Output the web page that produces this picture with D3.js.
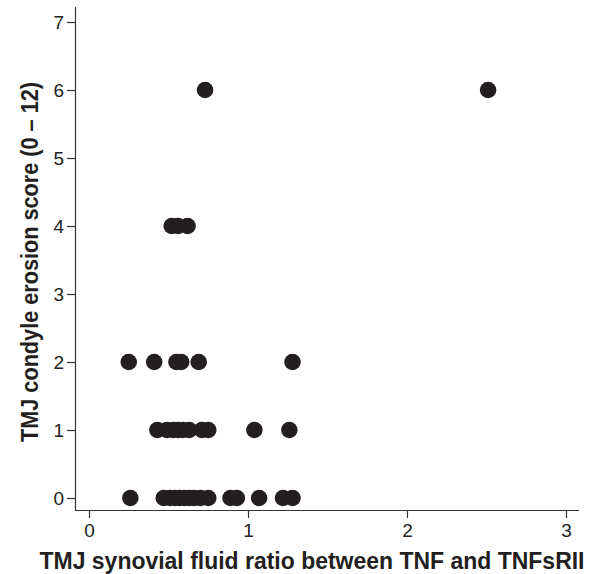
<!DOCTYPE html>
<html>
<head>
<meta charset="utf-8">
<script src="https://cdn.jsdelivr.net/npm/d3@7"></script>
<style>
  body { margin: 0; background: #fff; }
  svg { display: block; font-family: "Liberation Sans", Arial, sans-serif; }
</style>
</head>
<body>
<svg width="596" height="574"></svg>
<script>
// TNF / TNFsRII ratio (x) and condyle erosion score (y)
const ratio = [
  0.26, 0.47, 0.51, 0.54, 0.57, 0.60, 0.63, 0.66, 0.70, 0.75, 0.89, 0.93, 1.07, 1.22, 1.28,
  0.43, 0.49, 0.53, 0.56, 0.59, 0.63, 0.71, 0.75, 1.04, 1.26,
  0.25, 0.41, 0.55, 0.58, 0.69, 1.28,
  0.52, 0.56, 0.62,
  0.73, 2.51
];
const score = [
  0, 0, 0, 0, 0, 0, 0, 0, 0, 0, 0, 0, 0, 0, 0,
  1, 1, 1, 1, 1, 1, 1, 1, 1, 1,
  2, 2, 2, 2, 2, 2,
  4, 4, 4,
  6, 6
];
const xTicks = [0, 1, 2, 3];
const yTicks = [0, 1, 2, 3, 4, 5, 6, 7];

const svg = d3.select('svg');

// axis frame: left line at x=75, bottom line at y=510
const x = d3.scaleLinear().domain([0, 3]).range([89, 566]);
const y = d3.scaleLinear().domain([0, 7]).range([498, 22]);

const xAxis = d3.axisBottom(x).tickValues(xTicks).tickFormat(d3.format('d'))
  .tickSize(8).tickPadding(6).tickSizeOuter(0);
const yAxis = d3.axisLeft(y).tickValues(yTicks).tickFormat(d3.format('d'))
  .tickSize(8).tickPadding(3).tickSizeOuter(0);

const gx = svg.append('g').attr('transform', 'translate(0,510)').call(xAxis);
gx.select('.domain').attr('d', 'M75,0.5H579');
const gy = svg.append('g').attr('transform', 'translate(75,0)').call(yAxis);
gy.select('.domain').attr('d', 'M0.5,7V510.5');

[gx, gy].forEach(g => {
  g.selectAll('.domain, line').attr('stroke', '#333').attr('stroke-width', 1.2);
  g.selectAll('text').attr('font-size', 19).attr('fill', '#222')
    .attr('font-family', '"Liberation Sans", Arial, sans-serif');
});

// points
svg.append('g').selectAll('circle')
  .data(ratio.map((r, i) => [r, score[i]]))
  .join('circle')
    .attr('cx', d => x(d[0]))
    .attr('cy', d => y(d[1]))
    .attr('r', 8.3)
    .attr('fill', '#231f20');

// axis titles (squeezed to the reference widths)
svg.append('text')
  .attr('x', 312).attr('y', 569)
  .attr('text-anchor', 'middle')
  .attr('font-size', 23).attr('font-weight', 'bold').attr('fill', '#231f20')
  .attr('textLength', 545).attr('lengthAdjust', 'spacingAndGlyphs')
  .text('TMJ synovial fluid ratio between TNF and TNFsRII');

svg.append('text')
  .attr('transform', 'translate(38,262) rotate(-90)')
  .attr('text-anchor', 'middle')
  .attr('font-size', 23).attr('font-weight', 'bold').attr('fill', '#231f20')
  .attr('textLength', 360).attr('lengthAdjust', 'spacingAndGlyphs')
  .text('TMJ condyle erosion score (0 – 12)');
</script>
</body>
</html>
